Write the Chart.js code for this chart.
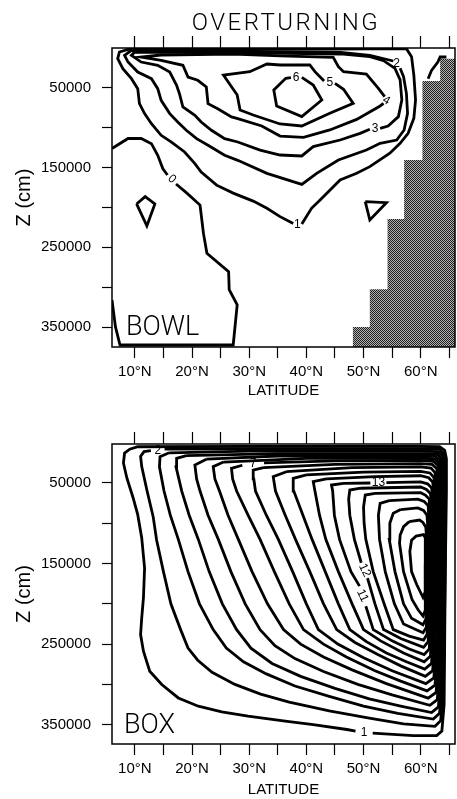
<!DOCTYPE html>
<html lang="en">
<head>
<meta charset="UTF-8">
<title>Overturning</title>
<script src="https://cdn.jsdelivr.net/npm/chart.js"></script>
<style>
  body { margin: 0; background: #fff; }
  canvas { position: absolute; left: 0; }
  #bowl { top: 0; }
  #box { top: 400px; }
</style>
</head>
<body>
<canvas id="bowl" width="457" height="400"></canvas>
<canvas id="box" width="457" height="399"></canvas>
<script>
// axis ticks
const latTicks = [10, 15, 20, 25, 30, 35, 40, 45, 50, 55, 60, 65];
const zTicks = [50000, 100000, 150000, 200000, 250000, 300000, 350000];

// BOWL panel: contour lines (latitude, depth in cm), null = gap for a label
const bowlLat = [
  [6.0, 6.6, 7.4, 27.2, 27.9, 26.5, 26.4, 22.6, 22.0, 21.4, 19.1, 17.2, null, 15.7, 14.9, 14.0, 12.9, 11.1, 8.8, 6.0],
  [37.7, 35.4, 33.1, 30.7, 27.2, 24.3, 21.6, 20.5, 18.7, 16.4, 14.6, 12.9, 11.7, 10.8, 10.5, 9.4, 7.9, 7.0, 7.3, 8.8, 27.2, 44.7, 57.5, 58.4, 58.8, 59.1, 58.8, 57.8, 56.4, 54.6, 51.1, 48.8, 45.9, 42.4, 40.9, 39.2],
  [55.2, 51.1, 46.0, 27.2, 10.9, 9.4, 8.2, 8.8, 10.5, 12.9, 14.0, 14.6, 16.1, 17.5, 19.0, 20.8, 22.8, 25.7, 28.0, 33.1, 39.2, 41.8, 45.6, 50.5, 52.9, 55.8, 57.1, 57.7, 57.5, 57.0, 56.4],
  [51.1, 49.4, 45.9, 41.2, 39.2, 35.4, 31.9, 28.0, 25.7, 23.4, 21.6, 20.5, 18.4, 17.8, 17.3, 16.1, 14.0, 11.1, 9.4, 10.0, 27.2, 46.0, 51.1, 53.5, 55.5, 56.4, 56.7, 56.1, 54.3, 52.9],
  [53.5, 52.9, 48.8, 44.1, 39.5, 35.4, 32.2, 28.0, 26.9, 24.5, 22.8, 22.5, 21.0, 19.3, 18.4, 14.6, 11.1, 14.6, 27.2, 35.4, 44.7, 45.6, 46.5, 50.5, 52.6, 53.7],
  [45.0, 46.5, 48.2, 44.1, 39.2, 35.4, 30.7, 28.4, 27.9, 25.5, 30.1, 33.1, 35.4, 40.6, 41.5, 43.1],
  [39.2, 41.2, 42.7, 39.2, 34.8, 34.3, 36.4, 37.3],
  [10.3, 11.8, 13.5, 12.1, 10.3],
  [50.3, 54.0, 51.1, 50.3],
  [61.3, 61.9, 63.0, 63.4, 64.5]
];
const bowlZ = [
  [316000, 349500, 372500, 372500, 322000, 303000, 280500, 257500, 232500, 197000, 182000, 170500, null, 159300, 151500, 134500, 120000, 113500, 113500, 126000],
  [220000, 211500, 201000, 192000, 182000, 172000, 155500, 145000, 130400, 118000, 109500, 95000, 82300, 69800, 51000, 38500, 26000, 13400, 5000, 1700, 1300, 1300, 800, 10900, 33900, 65200, 88200, 107000, 119500, 132000, 148800, 157000, 165500, 190600, 201000, 220700],
  [16300, 9200, 5400, 3800, 3800, 2900, 9200, 17600, 30100, 38500, 51000, 65600, 82300, 92800, 103200, 113700, 122000, 134600, 140900, 157200, 171000, 157200, 140400, 127900, 119500, 115400, 102800, 82000, 56800, 36000, 25500],
  [102000, 107000, 115400, 123700, 135400, 134200, 128000, 117900, 113700, 103200, 92800, 84400, 74000, 57300, 46800, 30100, 21700, 17600, 9200, 5000, 5900, 7500, 10900, 15900, 25500, 40100, 65200, 86100, 97800, 100700],
  [69400, 72700, 89500, 102800, 112000, 110400, 97800, 88600, 86500, 76100, 69800, 48900, 40500, 36400, 21700, 15500, 11300, 8800, 7500, 10000, 11700, 23400, 29700, 32600, 50600, 61000],
  [44300, 51800, 69400, 81900, 97800, 95300, 84000, 77700, 58900, 33900, 29700, 20100, 21300, 21300, 29700, 41400],
  [36800, 46400, 65200, 86100, 72700, 52700, 38000, 37200],
  [195600, 186400, 195600, 223200, 195600],
  [192700, 194000, 215700, 192700],
  [38500, 28000, 17600, 11300, 11300]
];
const bowlLabelText = ['0', '1', '2', '3', '4', '5', '6'];
const bowlLabelLat = [16.5, 38.4, 55.8, 52.0, 54.0, 44.1, 38.2];
const bowlLabelZ = [164500, 221000, 19500, 101000, 66000, 44000, 37000];
const bowlLabelRot = [40, 0, 0, 0, 30, 0, 0];

// BOWL bottom topography (stepped land)
const landLat = [48.1, 48.1, 51.1, 51.1, 54.2, 54.2, 57.1, 57.1, 60.3, 60.3, 63.4, 63.4, 66.1];
const landTop = [376000, 350000, 350000, 302600, 302600, 214400, 214400, 140450, 140450, 41400, 41400, 13400, 13400];

// BOX panel: contour lines 1..18 from outside in
const boxLat = [
  [51.6, 58.7, 62.8, 63.7, 64.1, 64.3, 64.5, 64.5, 64.2, 63.3, 60, 30, 10.5, 9.1, 8.2, 8.0, 8.6, 9.7, 10.5, 11.2, 11.7, 11.5, 11.2, 11.0, 11.5, 12.6, 14.7, 17.6, 21.1, 25.2, 29.8, 36.3, 41.2, 47.1, 48.6],
  [15.2, 30, 60, 63.2, 64.0, 64.3, 64.3, 64.0, 63.5, 62.5, 57, 51, 44, 37, 32, 27.5, 23.5, 21.0, 19.3, 18.0, 16.3, 15.0, 13.8, 13.2, 12.1, 11.2, 11.0, 11.6, 12.8],
  [16.0, 30, 60, 63.0, 63.8, 64.1, 64.1, 63.8, 63.3, 62.2, 56, 50, 44, 38, 33, 29, 26.0, 23.7, 21.3, 19.3, 17.6, 16.2, 15.1, 14.3, 14.4, 16.0],
  [19.0, 35, 60, 62.8, 63.6, 63.8, 63.8, 63.6, 63.1, 61.9, 56.5, 51, 45, 39, 34, 30.3, 27.8, 25.3, 23.0, 21.1, 19.5, 18.2, 17.2, 17.3, 19.0],
  [22.5, 35, 60, 62.6, 63.4, 63.6, 63.6, 63.4, 62.9, 61.6, 55, 49, 43, 38, 34.5, 31.9, 29.3, 26.8, 24.6, 22.8, 21.4, 20.8, 20.5, 22.5],
  [25.5, 40, 60, 62.4, 63.2, 63.4, 63.4, 63.2, 62.7, 61.3, 54, 48, 43, 39, 36.0, 33.2, 30.5, 28.1, 26.3, 24.8, 24.0, 23.7, 25.5],
  [32.6, 45, 60, 62.2, 63.0, 63.2, 63.2, 63.0, 62.5, 61.1, 56.5, 52, 47, 43, 39.5, 37.0, 34.4, 31.9, 29.8, 27.8, 27.1, 26.9, 28.8],
  [32.5, 45, 60, 62.0, 62.8, 63.0, 63.0, 62.8, 62.3, 60.9, 55, 50, 45.5, 42.1, 40.0, 37.6, 35.1, 33.0, 31.1, 30.8, 30.7, 32.5],
  [36.5, 48, 60, 61.8, 62.5, 62.7, 62.7, 62.5, 62.1, 60.8, 56.5, 52.5, 48.5, 45.3, 43.0, 40.6, 38.1, 36.3, 34.6, 34.2, 36.5],
  [40, 50, 60, 61.6, 62.3, 62.5, 62.5, 62.3, 61.9, 60.7, 57.5, 54, 50.5, 47.6, 45.6, 43.3, 41.0, 39.4, 37.8, 37.7, 40],
  [43.5, 52, 60, 61.4, 62.1, 62.3, 62.3, 62.1, 61.7, 60.6, 57, 53, 50.0, 48.0, 45.6, 43.4, 42.3, 41.5, 41.2, 43.5],
  [54.0, 60, 61.2, 61.9, 62.1, 62.1, 61.9, 61.5, 60.6, 58, 55, 51.7, 50.4, null, 49.3, 47.8, 45.8, 44.9, 44.6, 44.4, 46.5, 51.2],
  [49.5, 60, 61.0, 61.7, 61.9, 61.9, 61.7, 61.3, 60.5, 56.5, 53.5, 52.0, 50.7, null, 49.6, 48.4, 47.6, 47.4, 47.6, 49.5],
  [52, 60, 60.8, 61.5, 61.6, 61.6, 61.4, 61.1, 60.5, 58, 55.2, 53.6, 51.7, 50.4, 50.1, 50.0, 50.3, 52],
  [54.5, 59.5, 60.6, 61.3, 61.4, 61.2, 61.0, 60.4, 57.0, 55.4, 53.8, 52.8, 52.6, 52.9, 54.5],
  [56.5, 59.5, 60.5, 61.1, 61.2, 61.0, 60.9, 60.4, 58.4, 57.0, 55.5, 54.5, 54.6, 55.2, 56.5],
  [58, 59.8, 60.4, 60.9, 61.0, 60.9, 60.8, 60.4, 59.6, 58.5, 57.0, 56.3, 56.4, 57.0, 58],
  [60.8, 60.5, 59.2, 58.4, 58.1, 58.4, 59.3, 60.4, 60.8, 60.8]
];
const boxZ = [
  [360600, 363500, 363500, 358000, 325000, 160000, 60000, 20000, 9500, 5000, 4500, 4500, 5000, 8000, 12800, 25200, 43800, 68600, 89300, 118200, 155500, 192700, 217500, 238200, 258900, 283700, 300200, 316800, 327100, 334100, 339500, 345700, 349900, 356000, 358000],
  [8000, 7500, 7500, 8000, 13000, 24000, 150000, 300000, 345000, 352000, 349000, 342000, 333000, 322000, 312000, 300000, 285000, 270000, 255000, 232000, 200000, 160000, 120700, 91800, 58700, 29700, 17000, 11000, 9800],
  [12500, 10500, 10500, 11000, 16000, 28000, 150000, 290000, 336000, 343000, 336000, 327000, 315000, 302000, 287000, 272000, 255000, 232000, 200000, 160000, 120000, 90000, 60000, 30000, 17300, 12500],
  [16000, 13500, 13500, 14000, 19000, 32000, 150000, 280000, 328000, 335000, 327000, 318000, 305000, 290000, 274000, 255000, 232000, 200000, 160000, 120000, 90000, 60000, 30000, 19400, 16000],
  [20500, 16500, 16500, 17000, 22000, 36000, 150000, 270000, 319000, 326000, 313000, 300000, 284000, 268000, 252000, 232000, 200000, 160000, 120000, 90000, 60000, 45000, 27700, 20500],
  [24000, 19500, 19000, 20000, 25000, 40000, 150000, 260000, 310000, 317000, 299000, 282000, 266000, 250000, 232000, 200000, 160000, 120000, 90000, 60000, 45000, 29700, 24000],
  [25000, 22500, 22000, 23000, 28000, 44000, 150000, 250000, 301000, 308000, 296000, 283000, 266000, 250000, 232000, 200000, 160000, 120000, 90000, 60000, 45000, 31800, 28000],
  [31000, 27000, 26000, 27000, 32000, 48000, 150000, 240000, 292000, 299000, 283000, 267000, 250000, 232000, 200000, 160000, 120000, 90000, 60000, 45000, 33900, 31000],
  [36000, 31000, 30000, 31500, 37000, 52000, 150000, 230000, 283000, 290000, 277000, 263000, 248000, 232000, 200000, 160000, 120000, 90000, 60000, 42100, 36000],
  [40000, 36500, 35500, 37500, 43000, 56000, 150000, 220000, 274000, 281000, 272000, 261000, 247000, 232000, 200000, 160000, 120000, 90000, 60000, 44200, 40000],
  [45000, 42000, 41000, 43500, 49000, 62000, 150000, 210000, 265000, 272000, 261000, 246000, 232000, 200000, 160000, 120000, 90000, 60000, 48300, 45000],
  [49500, 48500, 51000, 56000, 68000, 150000, 200000, 256000, 263000, 256000, 246000, 232000, 203000, null, 178000, 160000, 120000, 90000, 60000, 52500, 50500, 50000],
  [56500, 55000, 58000, 63000, 74000, 150000, 190000, 247000, 254000, 243000, 232000, 200000, 168000, null, 149000, 120000, 90000, 70000, 58700, 56500],
  [63000, 62000, 65000, 70000, 82000, 150000, 180000, 238000, 245000, 240000, 232000, 200000, 160000, 120000, 100000, 80000, 64900, 63000],
  [72000, 70000, 73000, 78000, 90000, 170000, 229000, 236000, 225000, 200000, 160000, 120000, 90000, 75200, 72000],
  [83000, 81000, 84000, 90000, 100000, 160000, 219000, 226000, 218000, 200000, 160000, 120000, 100000, 87600, 83000],
  [98000, 96000, 99000, 105000, 115000, 150000, 208000, 215000, 208000, 195000, 160000, 125000, 115000, 104200, 98000],
  [118000, 114000, 116000, 121000, 135000, 160000, 176000, 192000, 185000, 118000]
];
const boxLabelText = ['1', '2', '7', '13', '12', '11'];
const boxLabelLat = [50.1, 14.0, 30.7, 52.6, 50.2, 49.8];
const boxLabelZ = [359500, 9300, 26500, 49800, 158500, 190000];
const boxLabelRot = [0, 0, 0, 0, 65, 65];

const sansFont = '"Liberation Sans", Arial, sans-serif';

function stipple() {
  const c = document.createElement('canvas');
  c.width = 2; c.height = 2;
  const g = c.getContext('2d');
  g.fillStyle = '#b0b0b0';
  g.fillRect(0, 0, 2, 2);
  g.fillStyle = '#202020';
  g.fillRect(0, 0, 1, 1);
  g.fillRect(1, 1, 1, 1);
  return g.createPattern(c, 'repeat');
}

function contourSets(lats, zs) {
  return lats.map((lat, k) => ({
    data: lat.map((x, i) => ({x: x, y: zs[k][i]})),
    showLine: true,
    borderColor: '#000',
    borderWidth: 2.8,
    pointRadius: 0,
    fill: false
  }));
}

function textPlugin(texts, lats, zs, rots, panelName, panelLat, panelZ, title) {
  return {
    id: 'texts',
    afterDatasetsDraw(chart) {
      const {ctx, chartArea: a} = chart;
      const x = chart.scales.x, y = chart.scales.y;
      ctx.save();
      ctx.strokeStyle = '#000';
      ctx.lineWidth = 1.5;
      ctx.strokeRect(a.left, a.top, a.right - a.left, a.bottom - a.top);
      ctx.fillStyle = '#000';
      ctx.font = '12px ' + sansFont;
      ctx.textAlign = 'center';
      ctx.textBaseline = 'middle';
      texts.forEach((t, i) => {
        ctx.save();
        ctx.translate(x.getPixelForValue(lats[i]), y.getPixelForValue(zs[i]));
        ctx.rotate(rots[i] * Math.PI / 180);
        ctx.fillText(t, 0, 0);
        ctx.restore();
      });
      ctx.font = '300 27px Roboto, sans-serif';
      ctx.textAlign = 'left';
      ctx.textBaseline = 'alphabetic';
      ctx.fillText(panelName, x.getPixelForValue(panelLat), y.getPixelForValue(panelZ));
      if (title) {
        ctx.font = '300 24px Roboto, sans-serif';
        ctx.letterSpacing = '2.5px';
        ctx.textAlign = 'center';
        ctx.fillText(title, 286, 30);
      }
      ctx.restore();
    }
  };
}

function makeChart(id, datasets, zMin, zMax, topH, bottomH, plugin) {
  const tickFont = {family: sansFont, size: 15};
  const setLatTicks = s => { s.ticks = latTicks.map(v => ({value: v})); };
  const grid = {drawOnChartArea: false, tickLength: 11, tickColor: '#000', tickWidth: 1.2};
  return new Chart(document.getElementById(id), {
    type: 'scatter',
    data: {datasets: datasets},
    options: {
      responsive: false,
      animation: false,
      events: [],
      layout: {padding: {left: 0, right: 2, top: 0, bottom: 0}},
      plugins: {legend: {display: false}, tooltip: {enabled: false}},
      scales: {
        x: {
          type: 'linear', position: 'bottom', min: 6, max: 66,
          afterBuildTicks: setLatTicks,
          ticks: {autoSkip: false, maxRotation: 0, padding: 5, color: '#000', font: tickFont,
                  callback: v => v % 10 === 0 ? v + '°N' : ''},
          grid: grid,
          border: {display: false},
          title: {display: true, text: 'LATITUDE', color: '#000', font: tickFont, padding: 0},
          afterFit: s => { s.height = bottomH; }
        },
        x2: {
          type: 'linear', axis: 'x', position: 'top', min: 6, max: 66,
          afterBuildTicks: setLatTicks,
          ticks: {autoSkip: false, maxRotation: 0, callback: () => ''},
          grid: Object.assign({}, grid, {tickLength: 12}),
          border: {display: false},
          afterFit: s => { s.height = topH; }
        },
        y: {
          type: 'linear', reverse: true, min: zMin, max: zMax,
          afterBuildTicks: s => { s.ticks = zTicks.map(v => ({value: v})); },
          ticks: {padding: 11, color: '#000', font: tickFont,
                  callback: v => v % 100000 === 50000 ? String(v) : ''},
          grid: Object.assign({}, grid, {tickLength: 10}),
          border: {display: false},
          title: {display: true, text: 'Z (cm)', color: '#000', font: {family: sansFont, size: 20},
                  padding: {top: 12, bottom: 0}},
          afterFit: s => { s.width = 112; }
        }
      }
    },
    plugins: [plugin]
  });
}

const land = {
  data: landLat.map((x, i) => ({x: x, y: landTop[i]})),
  showLine: true,
  borderColor: 'rgba(0,0,0,0)',
  borderWidth: 0,
  pointRadius: 0,
  backgroundColor: stipple(),
  fill: {value: 376000}
};

makeChart('bowl', contourSets(bowlLat, bowlZ).concat([land]), 0, 375000, 48, 53,
  textPlugin(bowlLabelText, bowlLabelLat, bowlLabelZ, bowlLabelRot, 'BOWL', 8.45, 360000, 'OVERTURNING'));

makeChart('box', contourSets(boxLat, boxZ), 1600, 374000, 44, 55,
  textPlugin(boxLabelText, boxLabelLat, boxLabelZ, boxLabelRot, 'BOX', 8.1, 360300, null));
</script>
</body>
</html>
